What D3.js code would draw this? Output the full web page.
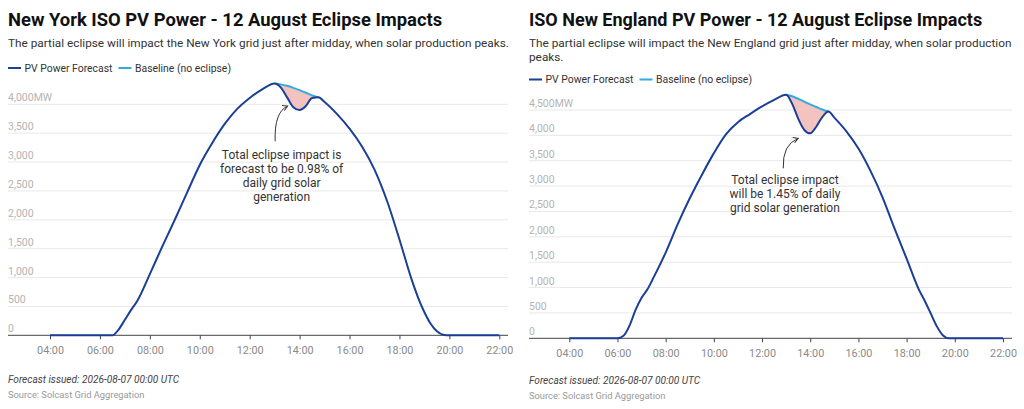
<!DOCTYPE html>
<html>
<head>
<meta charset="utf-8">
<script src="https://cdn.jsdelivr.net/npm/d3@7"></script>
<style>
	body { margin: 0; background: #fff; font-family: Roboto, "Noto Sans", sans-serif; }
	svg text { font-family: Roboto, "Noto Sans", sans-serif; }
</style>
</head>
<body>
<svg id="chart" width="1024" height="409"></svg>
<script>
// time of day, shared by both panels
const times = ["04:00", "05:00", "06:00", "06:15", "06:30", "06:45", "07:00", "07:15", "07:30",
	"08:00", "08:30", "09:00", "09:30", "10:00", "10:30", "11:00", "11:30", "12:00", "12:30",
	"13:00", "13:15", "13:30", "13:45", "14:00", "14:15", "14:30", "14:45",
	"15:00", "15:30", "16:00", "16:30", "17:00", "17:30", "18:00", "18:30", "18:45",
	"19:00", "19:15", "19:30", "19:45", "20:00", "21:00", "22:00"];

// New York ISO, MW
const nyForecast = [0, 0, 0, 0, 0, 100, 270, 440, 600,
	1060, 1540, 2000, 2480, 2950, 3330, 3660, 3920, 4110, 4260,
	4360, 4290, 4120, 3950, 3900, 3970, 4110, 4120,
	4040, 3830, 3580, 3270, 2870, 2330, 1660, 950, 650,
	400, 200, 70, 10, 0, 0, 0];
const nyBaseline = [null, null, null, null, null, null, null, null, null,
	null, null, null, null, null, null, null, null, null, null,
	4360, 4345, 4320, 4285, 4245, 4200, 4155, 4120,
	null, null, null, null, null, null, null, null, null,
	null, null, null, null, null, null, null];

// ISO New England, MW
const neForecast = [0, 0, 0, 50, 250, 560, 800, 970, 1200,
	1690, 2250, 2760, 3220, 3650, 4020, 4260, 4420, 4570, 4700,
	4800, 4620, 4330, 4110, 4040, 4170, 4360, 4470,
	4350, 4080, 3740, 3300, 2780, 2160, 1570, 970, 740,
	490, 240, 60, 0, 0, 0, 0];
const neBaseline = [null, null, null, null, null, null, null, null, null,
	null, null, null, null, null, null, null, null, null, null,
	4800, 4770, 4720, 4665, 4610, 4560, 4510, 4470,
	null, null, null, null, null, null, null, null, null,
	null, null, null, null, null, null, null];

const xTicks = [4, 6, 8, 10, 12, 14, 16, 18, 20, 22];
const nyTicks = [0, 500, 1000, 1500, 2000, 2500, 3000, 3500, 4000];
const neTicks = [0, 500, 1000, 1500, 2000, 2500, 3000, 3500, 4000, 4500];

const legendLabels = ["PV Power Forecast", "Baseline (no eclipse)"];
const forecastColor = "#1b3f96";
const baselineColor = "#35a9e1";

function toHour(t) {
	const p = t.split(":");
	return +p[0] + (+p[1]) / 60;
}

const svg = d3.select("#chart");
svg.append("defs").append("marker")
	.attr("id", "arrow")
	.attr("viewBox", "0 0 10 10")
	.attr("refX", 8).attr("refY", 5)
	.attr("markerWidth", 7).attr("markerHeight", 7)
	.attr("orient", "auto")
	.append("path")
	.attr("d", "M1,1 L8,5 L1,9")
	.attr("fill", "none")
	.attr("stroke", "#333")
	.attr("stroke-width", 1.4);

drawPanel({
	left: 8, right: 508,
	xRange: [50, 499.3],
	yRange: [335.3, 104.3], yMax: 4000, yTicks: nyTicks,
	title: "New York ISO PV Power - 12 August Eclipse Impacts", titleSize: 18.4,
	subtitle: ["The partial eclipse will impact the New York grid just after midday, when solar production peaks."],
	subtitleY: 47, legendY: 71.5, titleY: 26,
	forecast: nyForecast, baseline: nyBaseline,
	note: ["Total eclipse impact is", "forecast to be 0.98% of", "daily grid solar", "generation"],
	noteAt: [13.28, 3045], arrowFrom: [13.02, 3360], arrowTo: [13.52, 3970],
	footY: 383
});

drawPanel({
	left: 529, right: 1012,
	xRange: [569.3, 1003],
	yRange: [338.3, 110], yMax: 4500, yTicks: neTicks,
	title: "ISO New England PV Power - 12 August Eclipse Impacts", titleSize: 18,
	subtitle: ["The partial eclipse will impact the New England grid just after midday, when solar production", "peaks."],
	subtitleY: 47, legendY: 83, titleY: 26,
	forecast: neForecast, baseline: neBaseline,
	note: ["Total eclipse impact", "will be 1.45% of daily", "grid solar generation"],
	noteAt: [12.95, 3050], arrowFrom: [12.88, 3350], arrowTo: [13.5, 3940],
	footY: 384
});

function drawPanel(c) {
	const g = svg.append("g");

	const x = d3.scaleLinear().domain([4, 22]).range(c.xRange);
	const y = d3.scaleLinear().domain([0, c.yMax]).range(c.yRange);

	// titles
	g.append("text")
		.attr("x", c.left).attr("y", c.titleY)
		.attr("font-size", c.titleSize).attr("font-weight", 700).attr("fill", "#111")
		.text(c.title);
	c.subtitle.forEach(function (s, i) {
		g.append("text")
			.attr("x", c.left).attr("y", c.subtitleY + i * 13.5)
			.attr("font-size", 11.8).attr("fill", "#333")
			.text(s);
	});

	// legend
	const leg = g.append("g").attr("transform", "translate(" + c.left + "," + c.legendY + ")");
	[[0, forecastColor], [110.5, baselineColor]].forEach(function (d, i) {
		leg.append("line")
			.attr("x1", d[0]).attr("x2", d[0] + 13)
			.attr("y1", -3.5).attr("y2", -3.5)
			.attr("stroke", d[1]).attr("stroke-width", 2);
		leg.append("text")
			.attr("x", d[0] + 16.5).attr("y", 0)
			.attr("font-size", 10.4).attr("fill", "#333")
			.text(legendLabels[i]);
	});

	// gridlines and y labels
	c.yTicks.forEach(function (v, i) {
		if (v > 0) {
			g.append("line")
				.attr("x1", c.left).attr("x2", c.right)
				.attr("y1", y(v)).attr("y2", y(v))
				.attr("stroke", "#e8e8e8").attr("stroke-width", 1);
		}
		g.append("text")
			.attr("x", c.left).attr("y", y(v) - 3)
			.attr("font-size", 10.5).attr("fill", "#b3b3b3")
			.text(d3.format(",")(v) + (i === c.yTicks.length - 1 ? "MW" : ""));
	});

	// x axis
	const xAxis = d3.axisBottom(x)
		.tickValues(xTicks)
		.tickSize(4)
		.tickFormat(function (d) { return d3.format("02")(d) + ":00"; });
	const ax = g.append("g")
		.attr("transform", "translate(0," + c.yRange[0] + ")")
		.call(xAxis);
	ax.select(".domain").remove();
	ax.selectAll(".tick line").attr("stroke", "#444");
	ax.selectAll(".tick text")
		.attr("y", 11)
		.attr("font-size", 10.8).attr("fill", "#8a8a8a")
		.attr("font-family", "Roboto, sans-serif");
	g.append("line")
		.attr("x1", c.left).attr("x2", c.right)
		.attr("y1", c.yRange[0]).attr("y2", c.yRange[0])
		.attr("stroke", "#444").attr("stroke-width", 1);

	const rows = times.map(function (t, i) {
		return {h: toHour(t), f: c.forecast[i], b: c.baseline[i]};
	});
	const eclipse = rows.filter(function (d) { return d.b !== null; });

	// eclipse shortfall area
	g.append("path")
		.datum(eclipse)
		.attr("fill", "#f3c3bf")
		.attr("d", d3.area()
			.x(function (d) { return x(d.h); })
			.y0(function (d) { return y(d.f); })
			.y1(function (d) { return y(d.b); })
			.curve(d3.curveMonotoneX));

	g.append("path")
		.datum(eclipse)
		.attr("fill", "none")
		.attr("stroke", baselineColor).attr("stroke-width", 2)
		.attr("d", d3.line()
			.x(function (d) { return x(d.h); })
			.y(function (d) { return y(d.b); })
			.curve(d3.curveMonotoneX));

	g.append("path")
		.datum(rows)
		.attr("fill", "none")
		.attr("stroke", forecastColor).attr("stroke-width", 2)
		.attr("stroke-linejoin", "round")
		.attr("d", d3.line()
			.x(function (d) { return x(d.h); })
			.y(function (d) { return y(d.f); })
			.curve(d3.curveMonotoneX));

	// annotation
	const x0 = x(c.arrowFrom[0]), y0 = y(c.arrowFrom[1]);
	const x1 = x(c.arrowTo[0]), y1 = y(c.arrowTo[1]);
	g.append("path")
		.attr("d", "M" + x0 + "," + y0 + " Q" + (x0 - 1) + "," + (y1 + 6) + " " + x1 + "," + y1)
		.attr("fill", "none")
		.attr("stroke", "#333").attr("stroke-width", 1)
		.attr("marker-end", "url(#arrow)");
	c.note.forEach(function (s, i) {
		g.append("text")
			.attr("x", x(c.noteAt[0])).attr("y", y(c.noteAt[1]) + i * 14)
			.attr("text-anchor", "middle")
			.attr("font-size", 12).attr("fill", "#333")
			.text(s);
	});

	// footer
	g.append("text")
		.attr("x", c.left).attr("y", c.footY)
		.attr("font-size", 10.1).attr("font-style", "italic").attr("fill", "#444")
		.text("Forecast issued: 2026-08-07 00:00 UTC");
	g.append("text")
		.attr("x", c.left).attr("y", c.footY + 14.5)
		.attr("font-size", 9.3).attr("fill", "#999")
		.text("Source: Solcast Grid Aggregation");
}
</script>
</body>
</html>
